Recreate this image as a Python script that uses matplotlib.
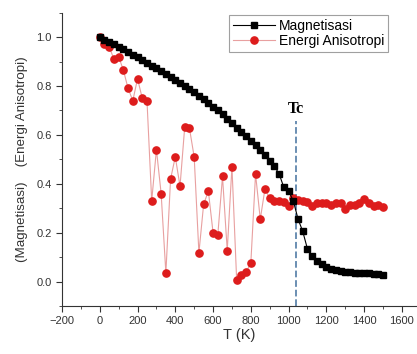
import matplotlib
matplotlib.use('Agg')
import matplotlib.pyplot as plt
from matplotlib.ticker import MultipleLocator

plt.rcParams['font.family'] = ['Liberation Sans', 'DejaVu Sans']

# temperature grid (K), step 25
T = list(range(0, 1501, 25))

magnetisasi = [1.000, 0.990, 0.980, 0.970, 0.960, 0.950, 0.939, 0.928, 0.917, 0.906,
               0.895, 0.884, 0.872, 0.860, 0.848, 0.836, 0.824, 0.812, 0.800, 0.788,
               0.775, 0.761, 0.747, 0.732, 0.716, 0.700, 0.684, 0.667, 0.648, 0.630,
               0.613, 0.595, 0.576, 0.557, 0.540, 0.517, 0.495, 0.472, 0.440, 0.385,
               0.370, 0.330, 0.256, 0.205, 0.133, 0.105, 0.085, 0.070, 0.060, 0.053,
               0.048, 0.044, 0.041, 0.039, 0.037, 0.035, 0.034, 0.033, 0.032, 0.030,
               0.028]

energi = [1.000, 0.970, 0.960, 0.910, 0.920, 0.865, 0.790, 0.740, 0.830, 0.750,
          0.740, 0.330, 0.540, 0.360, 0.035, 0.420, 0.510, 0.390, 0.634, 0.627,
          0.510, 0.117, 0.316, 0.370, 0.200, 0.190, 0.430, 0.127, 0.470, 0.005,
          0.025, 0.038, 0.076, 0.440, 0.255, 0.380, 0.340, 0.330, 0.330, 0.325,
          0.310, 0.340, 0.335, 0.330, 0.325, 0.310, 0.320, 0.320, 0.320, 0.315,
          0.320, 0.320, 0.297, 0.315, 0.315, 0.320, 0.337, 0.320, 0.310, 0.315,
          0.305]

Tc = 1040

fig = plt.figure(figsize=(4.17, 3.54), dpi=100)
ax = fig.add_axes([0.1487, 0.1356, 0.8513, 0.8285])

ax.plot(T, energi, color='#e8a0a0', lw=0.8, marker='o', ms=5.2,
        mfc='#dd1c1c', mec='#dd1c1c', label='Energi Anisotropi', zorder=2)
ax.plot(T, magnetisasi, color='black', lw=0.8, marker='s', ms=3.8,
        mfc='black', mec='black', label='Magnetisasi', zorder=3)

ax.axvline(Tc, ymin=0, ymax=0.63, color='#5f86ad', ls='--', lw=1.3, zorder=1)
ax.text(Tc, 0.675, 'Tc', family='Liberation Serif', fontweight='bold',
        fontsize=11.5, ha='center', va='bottom')

ax.set_xlim(-200, 1680)
ax.set_ylim(-0.1, 1.1)
ax.xaxis.set_major_locator(MultipleLocator(200))
ax.xaxis.set_minor_locator(MultipleLocator(100))
ax.yaxis.set_major_locator(MultipleLocator(0.2))
ax.yaxis.set_minor_locator(MultipleLocator(0.1))
ax.yaxis.set_major_formatter(plt.FuncFormatter(lambda v, p: '%.1f' % v))

for s in ['top', 'right']:
    ax.spines[s].set_visible(False)
ax.spines['left'].set_color('#333333')
ax.spines['bottom'].set_color('#333333')
ax.tick_params(which='major', direction='out', length=4, labelsize=8, colors='#333333')
ax.tick_params(which='minor', direction='out', length=2.5, colors='#333333')

ax.set_xlabel('T (K)', fontsize=10.5, color='#333333', labelpad=1)
ax.set_ylabel('(Magnetisasi)    (Energi Anisotropi)', fontsize=9.6, color='#333333', labelpad=6)

h, l = ax.get_legend_handles_labels()
leg = ax.legend(h[::-1], l[::-1], loc='upper right', bbox_to_anchor=(0.925, 1.0),
                fontsize=10, frameon=True, fancybox=False, edgecolor='#888888',
                handlelength=3.0, borderpad=0.25, labelspacing=0.1, handletextpad=0.3,
                borderaxespad=0.2)
leg.get_frame().set_linewidth(0.8)

fig.savefig('out.png', dpi=100)
